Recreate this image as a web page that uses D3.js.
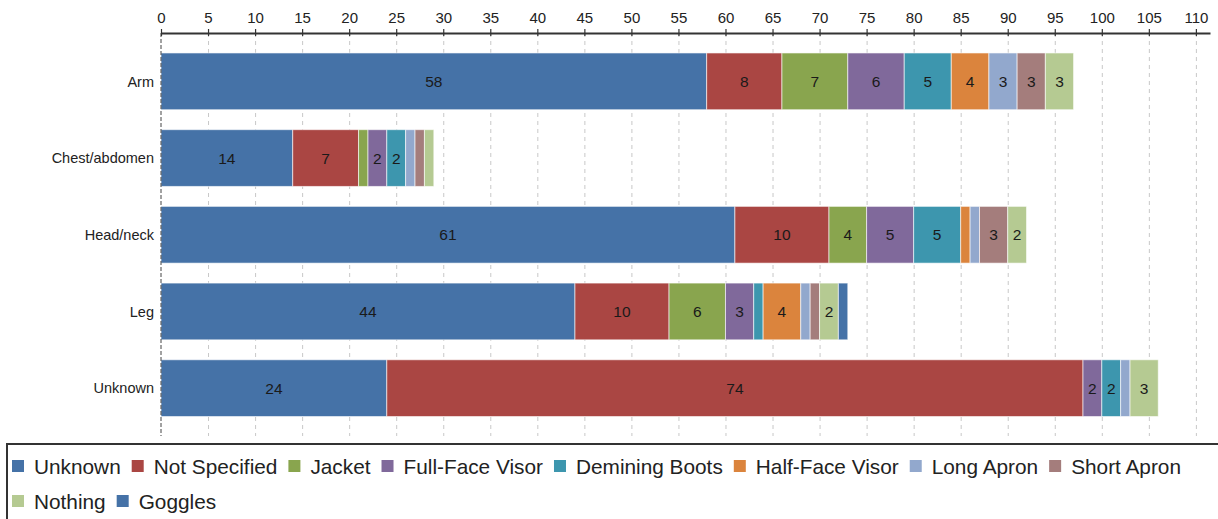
<!DOCTYPE html>
<html>
<head>
<meta charset="utf-8">
<script src="https://cdn.jsdelivr.net/npm/d3@7"></script>
<style>
  body { margin: 0; background: #fff; }
  svg { display: block; font-family: "Liberation Sans", Arial, sans-serif; }
</style>
</head>
<body>
<div id="container"></div>
<script>
// Width and height
let w = 1218;
let h = 519;

// Data
let categories = ["Arm", "Chest/abdomen", "Head/neck", "Leg", "Unknown"];
let seriesNames = ["Unknown", "Not Specified", "Jacket", "Full-Face Visor", "Demining Boots",
                   "Half-Face Visor", "Long Apron", "Short Apron", "Nothing", "Goggles"];
let seriesColors = ["#4572A7", "#AA4643", "#89A54E", "#80699B", "#3D96AE",
                    "#DB843D", "#92A8CD", "#A47D7C", "#B5CA92", "#4572A7"];
// one array per series, one value per category (Arm, Chest, Head, Leg, Unknown)
let unknownVals      = [58, 14, 61, 44, 24];
let notSpecifiedVals = [8, 7, 10, 10, 74];
let jacketVals       = [7, 1, 4, 6, 0];
let fullFaceVals     = [6, 2, 5, 3, 2];
let bootsVals        = [5, 2, 5, 1, 2];
let halfFaceVals     = [4, 0, 1, 4, 0];
let longApronVals    = [3, 1, 1, 1, 1];
let shortApronVals   = [3, 1, 3, 1, 0];
let nothingVals      = [3, 1, 2, 2, 3];
let gogglesVals      = [0, 0, 0, 1, 0];
let tickValues = d3.range(0, 111, 5);

let seriesVals = [unknownVals, notSpecifiedVals, jacketVals, fullFaceVals, bootsVals,
                  halfFaceVals, longApronVals, shortApronVals, nothingVals, gogglesVals];

// build rows for the stack
let rows = categories.map(function(c, i) {
  let r = { cat: c };
  seriesNames.forEach(function(s, j) { r[s] = seriesVals[j][i]; });
  return r;
});
let stacked = d3.stack().keys(seriesNames)(rows);

// Scales
let x = d3.scaleLinear().domain([0, 111.5]).range([161, 1210]);
let y = d3.scaleBand().domain(categories).range([43, 426.5])
          .paddingInner(0.26).paddingOuter(0.13);

let svg = d3.select("#container")
  .append("svg")
  .attr("width", w)
  .attr("height", h);

// grid lines
svg.append("g")
  .selectAll("line")
  .data(tickValues.slice(1))
  .enter()
  .append("line")
    .attr("x1", d => x(d) + 0.5)
    .attr("x2", d => x(d) + 0.5)
    .attr("y1", 33)
    .attr("y2", 436)
    .attr("stroke", "#c8c8c8")
    .attr("stroke-dasharray", "4,4");

// bars
let layerG = svg.append("g");
layerG.selectAll("g")
  .data(stacked)
  .enter()
  .append("g")
    .attr("fill", (d, i) => seriesColors[i])
  .selectAll("rect")
  .data(d => d.map(function(v) { v.key = d.key; return v; }))
  .enter()
  .append("rect")
    .attr("x", d => x(d[0]))
    .attr("y", d => y(d.data.cat))
    .attr("width", d => Math.max(0, x(d[1]) - x(d[0])))
    .attr("height", y.bandwidth())
    .attr("stroke", "#fff")
    .attr("stroke-opacity", 0.6)
    .attr("stroke-width", 1);

// value labels
layerG.append("g")
  .selectAll("text")
  .data(stacked.flatMap(s => s.map(v => ({ v: v, val: v[1] - v[0] }))).filter(d => d.val > 1))
  .enter()
  .append("text")
    .attr("x", d => (x(d.v[0]) + x(d.v[1])) / 2)
    .attr("y", d => y(d.v.data.cat) + y.bandwidth() / 2)
    .attr("dy", "0.36em")
    .attr("text-anchor", "middle")
    .attr("font-size", 15.5)
    .attr("fill", "#1a1a1a")
    .text(d => d.val);

// left axis (dashed)
svg.append("line")
  .attr("x1", x(0)).attr("x2", x(0))
  .attr("y1", 33).attr("y2", 436)
  .attr("stroke", "#444")
  .attr("stroke-dasharray", "4,2");

// top axis
let xAxis = d3.axisTop(x).tickValues(tickValues).tickSize(0).tickPadding(10);
let axG = svg.append("g")
  .attr("transform", "translate(0,33)")
  .call(xAxis);
axG.select(".domain").attr("stroke", "#333").attr("stroke-width", 2);
axG.selectAll(".tick text").attr("font-size", 15).attr("fill", "#222")
  .attr("font-family", "Liberation Sans, Arial, sans-serif");
axG.selectAll(".tick").append("line")
  .attr("y1", -4).attr("y2", 3)
  .attr("stroke", "#333").attr("stroke-width", 1.2);

// category labels
svg.append("g")
  .selectAll("text")
  .data(categories)
  .enter()
  .append("text")
    .attr("x", 154)
    .attr("y", d => y(d) + y.bandwidth() / 2)
    .attr("dy", "0.36em")
    .attr("text-anchor", "end")
    .attr("font-size", 14.5)
    .attr("fill", "#222")
    .text(d => d);

// legend
let legendG = svg.append("g");
legendG.append("rect")
  .attr("x", 7).attr("y", 444)
  .attr("width", 1220).attr("height", 82)
  .attr("fill", "none")
  .attr("stroke", "#333")
  .attr("stroke-width", 2);

let rowsY = [466, 501];
let lx = 12, row = 0;
seriesNames.forEach(function(name, i) {
  if (name === "Nothing") { row = 1; lx = 12; }
  let item = legendG.append("g").attr("transform", "translate(" + lx + "," + rowsY[row] + ")");
  item.append("rect")
    .attr("x", 0).attr("y", -6)
    .attr("width", 12).attr("height", 12)
    .attr("fill", seriesColors[i]);
  let t = item.append("text")
    .attr("x", 22)
    .attr("dy", "0.36em")
    .attr("font-size", 20.8)
    .attr("fill", "#222")
    .text(name);
  lx += 22 + t.node().getComputedTextLength() + 11;
});
</script>
</body>
</html>
